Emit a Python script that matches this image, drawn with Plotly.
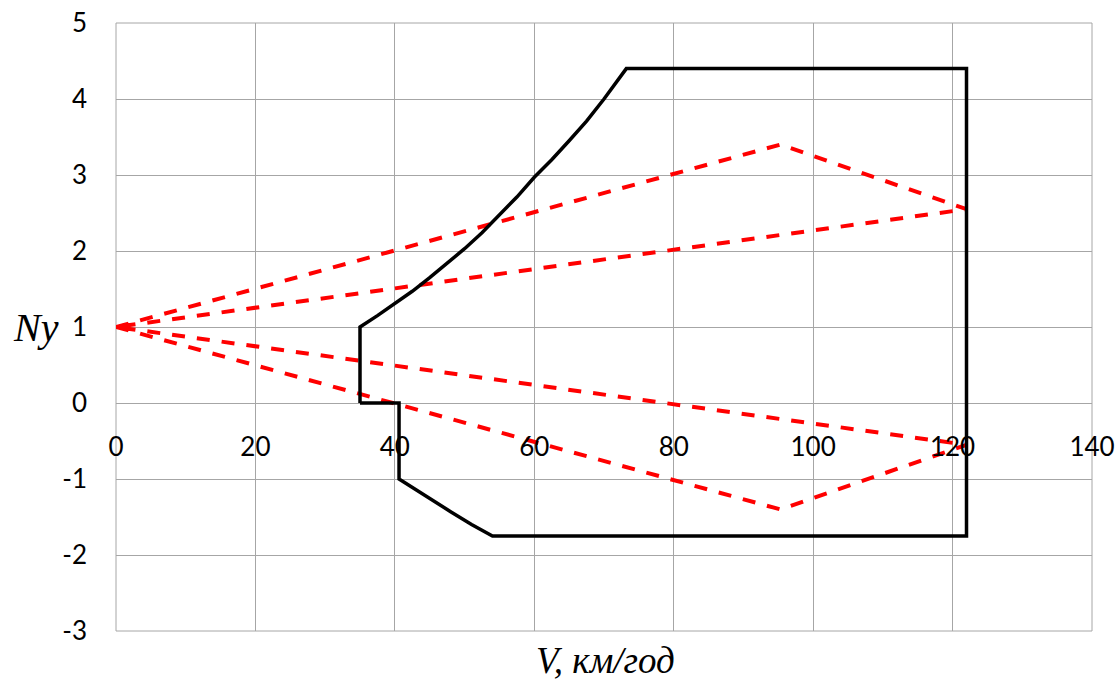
import plotly.graph_objects as go

# Flight envelope (black)
env_v = [35.0, 35.0, 37.5, 40.0, 42.5, 45.0, 47.5, 50.0, 52.5, 55.0, 57.5, 60.0, 62.5, 65.0, 67.5, 70.0, 73.2,
         122.0, 122.0, 54.0, 51.0, 48.0, 45.0, 42.5, 40.6, 40.6, 35.0]
env_ny = [0.0, 1.0, 1.15, 1.31, 1.47, 1.65, 1.84, 2.03, 2.24, 2.47, 2.71, 2.97, 3.2, 3.45, 3.71, 4.0, 4.4,
          4.4, -1.75, -1.75, -1.6, -1.43, -1.26, -1.12, -1.0, 0.0, 0.0]

# Gust lines (red dashed)
gust_up_v = [0.0, 95.3, 122.0, 0.0]
gust_up_ny = [1.0, 3.4, 2.55, 1.0]
gust_dn_v = [0.0, 95.3, 122.0, 0.0]
gust_dn_ny = [1.0, -1.4, -0.55, 1.0]

x_ticks = [0, 20, 40, 60, 80, 100, 120, 140]
y_ticks = [-3, -2, -1, 0, 1, 2, 3, 4, 5]

fig = go.Figure()
fig.add_trace(go.Scatter(x=gust_up_v, y=gust_up_ny, mode="lines",
                         line=dict(color="#ff0000", width=4, dash="13px,12px"), showlegend=False))
fig.add_trace(go.Scatter(x=gust_dn_v, y=gust_dn_ny, mode="lines",
                         line=dict(color="#ff0000", width=4, dash="13px,12px"), showlegend=False))
fig.add_trace(go.Scatter(x=env_v, y=env_ny, mode="lines",
                         line=dict(color="#000000", width=3.5, shape="linear"), showlegend=False))

grid = "#a6a6a6"
tickfont = dict(family="Lato, Open Sans, sans-serif", size=26, color="#000000")

fig.update_layout(
    width=1118, height=682,
    margin=dict(l=116, r=26, t=23, b=51, autoexpand=False),
    paper_bgcolor="white", plot_bgcolor="white",
    xaxis=dict(range=[0, 140], tickvals=x_ticks, ticktext=[str(v) for v in x_ticks],
               showgrid=True, gridcolor=grid, gridwidth=1, zeroline=False,
               showline=False, anchor="free", position=3 / 8, automargin=False,
               ticks="", ticklabelstandoff=26, tickfont=tickfont),
    yaxis=dict(range=[-3, 5], tickvals=y_ticks, ticktext=[str(v) for v in y_ticks],
               showgrid=True, gridcolor=grid, gridwidth=1, zeroline=False,
               showline=False, domain=[0, 1], automargin=False,
               ticks="", ticklabelstandoff=28, tickfont=tickfont),
    shapes=[dict(type="rect", xref="paper", yref="paper", x0=0, x1=1, y0=0, y1=1,
                 line=dict(color=grid, width=1), layer="below")],
    annotations=[
        dict(text="<i>Ny</i>", xref="paper", yref="paper", x=-0.082, y=0.5,
             showarrow=False, xanchor="center", yanchor="middle",
             font=dict(family="Liberation Serif, serif", size=40, color="#000000")),
        dict(text="<i>V, км/год</i>", xref="paper", yref="paper", x=0.502, y=-0.048,
             showarrow=False, xanchor="center", yanchor="middle",
             font=dict(family="Liberation Serif, serif", size=37, color="#000000")),
    ],
)

fig.write_html("out.html")
